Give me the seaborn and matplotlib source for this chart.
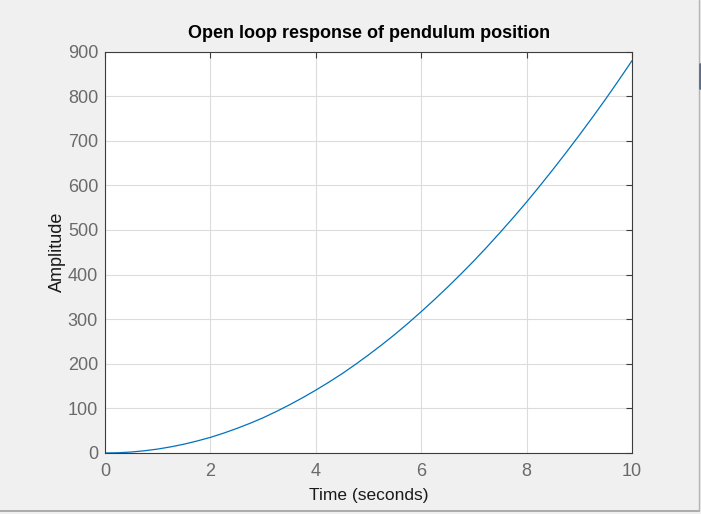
import matplotlib
matplotlib.use("Agg")
import matplotlib.pyplot as plt
import pandas as pd
import seaborn as sns
from matplotlib.lines import Line2D

# ── Data ────────────────────────────────────────────────────────────────────
TIME = [0.0, 0.25, 0.5, 0.75, 1.0, 1.25, 1.5, 1.75, 2.0, 2.25, 2.5,
        2.75, 3.0, 3.25, 3.5, 3.75, 4.0, 4.25, 4.5, 4.75, 5.0,
        5.25, 5.5, 5.75, 6.0, 6.25, 6.5, 6.75, 7.0, 7.25, 7.5,
        7.75, 8.0, 8.25, 8.5, 8.75, 9.0, 9.25, 9.5, 9.75, 10.0]
AMPLITUDE = [0, 0.5, 2.2, 5, 8.8, 13.8, 19.8, 27, 35, 44.5, 55,
             66.5, 79, 93, 108, 124, 141, 159, 178, 198.5, 220,
             242.5, 266, 291, 317, 344, 372, 401, 431, 462.5, 495,
             528.5, 563, 599, 636, 674, 713, 753, 794, 836.5, 880]
X_TICKS = [0, 2, 4, 6, 8, 10]
Y_TICKS = [0, 100, 200, 300, 400, 500, 600, 700, 800, 900]

# ── Style ───────────────────────────────────────────────────────────────────
sns.set_style("white")
plt.rcParams["font.family"] = ["Liberation Sans", "DejaVu Sans"]

df = pd.DataFrame({"t": TIME, "y": AMPLITUDE})

fig = plt.figure(figsize=(7.01, 5.14), dpi=100, facecolor="#f0f0f0")
ax = fig.add_axes([0.1498, 0.1187, 0.752, 0.781])
ax.set_facecolor("white")

sns.lineplot(data=df, x="t", y="y", ax=ax, color="#0072bd", linewidth=0.9)

ax.set_xlim(0, 10)
ax.set_ylim(0, 900)
ax.set_xticks(X_TICKS)
ax.set_yticks(Y_TICKS)
ax.grid(True, color="#dcdcdc", linewidth=0.8)
ax.set_axisbelow(True)

for side in ["left", "right", "top", "bottom"]:
    ax.spines[side].set_visible(True)
    ax.spines[side].set_color("#3c3c3c")
    ax.spines[side].set_linewidth(0.8)

ax.tick_params(direction="in", length=4, width=0.8, color="#3c3c3c",
               top=True, right=True, labelsize=13, labelcolor="#6a6a6a")
ax.tick_params(axis="x", pad=7)
ax.tick_params(axis="y", pad=5)

ax.set_xlabel("Time (seconds)", fontsize=12.5, color="#1a1a1a", labelpad=6)
ax.set_ylabel("Amplitude", fontsize=13, color="#1a1a1a", labelpad=1)
ax.set_title("Open loop response of pendulum position", fontsize=13,
             fontweight="bold", color="black", pad=10)

# window frame edges seen in the screenshot
fig.add_artist(Line2D([0, 0.997], [0.006, 0.006], transform=fig.transFigure,
                      color="#a0a0a0", linewidth=1.2))
fig.add_artist(Line2D([0.997, 0.997], [0.006, 1], transform=fig.transFigure,
                      color="#b4b4b4", linewidth=1.0))
fig.add_artist(Line2D([0.998, 0.998], [0.828, 0.875], transform=fig.transFigure,
                      color="#5a6e8c", linewidth=2.0))

fig.savefig("out.png", dpi=100, facecolor=fig.get_facecolor())
